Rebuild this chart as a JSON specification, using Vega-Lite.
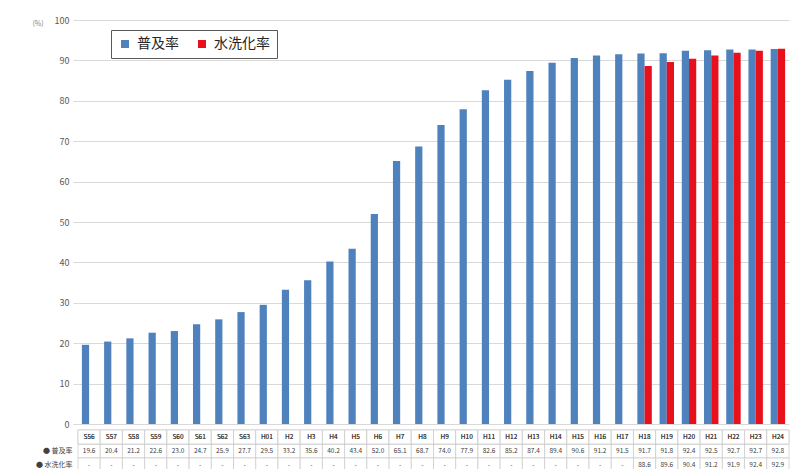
{
  "$schema": "https://vega.github.io/schema/vega-lite/v6.json",
  "padding": {"left": 32, "top": 16, "right": 0, "bottom": 0},
  "background": "white",
  "config": {
    "font": "Noto Sans CJK JP",
    "view": {"stroke": null},
    "axis": {"labelFont": "Noto Sans CJK JP", "titleFont": "Noto Sans CJK JP"}
  },
  "datasets": {
    "w": [
      {"cat": "S56", "普及率": 19.6, "水洗化率": null},
      {"cat": "S57", "普及率": 20.4, "水洗化率": null},
      {"cat": "S58", "普及率": 21.2, "水洗化率": null},
      {"cat": "S59", "普及率": 22.6, "水洗化率": null},
      {"cat": "S60", "普及率": 23.0, "水洗化率": null},
      {"cat": "S61", "普及率": 24.7, "水洗化率": null},
      {"cat": "S62", "普及率": 25.9, "水洗化率": null},
      {"cat": "S63", "普及率": 27.7, "水洗化率": null},
      {"cat": "H01", "普及率": 29.5, "水洗化率": null},
      {"cat": "H2", "普及率": 33.2, "水洗化率": null},
      {"cat": "H3", "普及率": 35.6, "水洗化率": null},
      {"cat": "H4", "普及率": 40.2, "水洗化率": null},
      {"cat": "H5", "普及率": 43.4, "水洗化率": null},
      {"cat": "H6", "普及率": 52.0, "水洗化率": null},
      {"cat": "H7", "普及率": 65.1, "水洗化率": null},
      {"cat": "H8", "普及率": 68.7, "水洗化率": null},
      {"cat": "H9", "普及率": 74.0, "水洗化率": null},
      {"cat": "H10", "普及率": 77.9, "水洗化率": null},
      {"cat": "H11", "普及率": 82.6, "水洗化率": null},
      {"cat": "H12", "普及率": 85.2, "水洗化率": null},
      {"cat": "H13", "普及率": 87.4, "水洗化率": null},
      {"cat": "H14", "普及率": 89.4, "水洗化率": null},
      {"cat": "H15", "普及率": 90.6, "水洗化率": null},
      {"cat": "H16", "普及率": 91.2, "水洗化率": null},
      {"cat": "H17", "普及率": 91.5, "水洗化率": null},
      {"cat": "H18", "普及率": 91.7, "水洗化率": 88.6},
      {"cat": "H19", "普及率": 91.8, "水洗化率": 89.6},
      {"cat": "H20", "普及率": 92.4, "水洗化率": 90.4},
      {"cat": "H21", "普及率": 92.5, "水洗化率": 91.2},
      {"cat": "H22", "普及率": 92.7, "水洗化率": 91.9},
      {"cat": "H23", "普及率": 92.7, "水洗化率": 92.4},
      {"cat": "H24", "普及率": 92.8, "水洗化率": 92.9}
    ]
  },
  "vconcat": [
    {
      "width": 711,
      "height": 404,
      "data": {"name": "w"},
      "transform": [{"fold": ["普及率", "水洗化率"], "as": ["key", "value"]}],
      "mark": {"type": "bar"},
      "encoding": {
        "x": {
          "field": "cat",
          "type": "nominal",
          "sort": null,
          "scale": {"paddingInner": 0.35, "paddingOuter": 0.175},
          "axis": null
        },
        "xOffset": {
          "field": "key",
          "type": "nominal",
          "scale": {"domain": ["普及率", "水洗化率"], "paddingInner": 0, "paddingOuter": 0}
        },
        "y": {
          "field": "value",
          "type": "quantitative",
          "scale": {"domain": [0, 100], "nice": false},
          "axis": {
            "values": [0, 10, 20, 30, 40, 50, 60, 70, 80, 90, 100],
            "title": "(%)",
            "titleAngle": 0,
            "titleX": -46,
            "titleY": 6,
            "titleFontSize": 7,
            "titleFontWeight": "normal",
            "titleColor": "#7f7f7f",
            "titleAlign": "left",
            "labelFontSize": 9,
            "labelColor": "#595959",
            "labelPadding": 4,
            "domain": false,
            "tickColor": "#d9d9d9",
            "tickSize": 5,
            "gridColor": "#d9d9d9"
          }
        },
        "color": {
          "field": "key",
          "type": "nominal",
          "scale": {"domain": ["普及率", "水洗化率"], "range": ["#4F81BD", "#E8111B"]},
          "legend": {
            "title": null,
            "orient": "none",
            "legendX": 33,
            "legendY": 10,
            "direction": "horizontal",
            "symbolType": "square",
            "symbolSize": 64,
            "labelFontSize": 14,
            "labelOffset": 5,
            "labelColor": "#262626",
            "columnPadding": 16,
            "padding": 7,
            "strokeColor": "#595959",
            "fillColor": "white"
          }
        }
      }
    },
    {
      "width": 711,
      "height": 42,
      "data": {"name": "w"},
      "transform": [
        {"fold": ["普及率", "水洗化率"], "as": ["key", "value"]},
        {"calculate": "datum.value == null ? '-' : format(datum.value, '.1f')", "as": "label"}
      ],
      "layer": [
        {
          "mark": {"type": "rect", "fill": "white", "stroke": "#c8c8c8", "strokeWidth": 0.7},
          "encoding": {
            "x": {"field": "cat", "type": "nominal", "sort": null},
            "y": {"field": "key", "type": "nominal"}
          }
        },
        {
          "mark": {"type": "rect", "fill": "white", "stroke": "#c8c8c8", "strokeWidth": 0.7},
          "encoding": {
            "x": {"field": "cat", "type": "nominal", "sort": null},
            "y": {"datum": "区分"}
          }
        },
        {
          "mark": {"type": "text", "fontSize": 6.5, "color": "#404040"},
          "encoding": {
            "x": {"field": "cat", "type": "nominal", "sort": null},
            "y": {"field": "key", "type": "nominal"},
            "text": {"field": "label"}
          }
        },
        {
          "mark": {"type": "text", "fontSize": 6.5, "color": "#404040"},
          "encoding": {
            "x": {"field": "cat", "type": "nominal", "sort": null},
            "y": {"datum": "区分"},
            "text": {"field": "cat"}
          }
        }
      ],
      "encoding": {
        "x": {
          "field": "cat",
          "type": "nominal",
          "sort": null,
          "scale": {"paddingInner": 0, "paddingOuter": 0},
          "axis": null
        },
        "y": {
          "type": "nominal",
          "scale": {"domain": ["区分", "普及率", "水洗化率"], "paddingInner": 0, "paddingOuter": 0},
          "axis": {
            "title": null,
            "domain": false,
            "ticks": false,
            "labelFontSize": 7,
            "labelColor": "#404040",
            "labelPadding": 6,
            "labelExpr": "datum.value == '区分' ? '' : '● ' + datum.value"
          }
        }
      },
      "resolve": {"scale": {"x": "shared", "y": "shared"}}
    }
  ],
  "spacing": 0,
  "resolve": {"scale": {"x": "independent", "color": "independent"}}
}
